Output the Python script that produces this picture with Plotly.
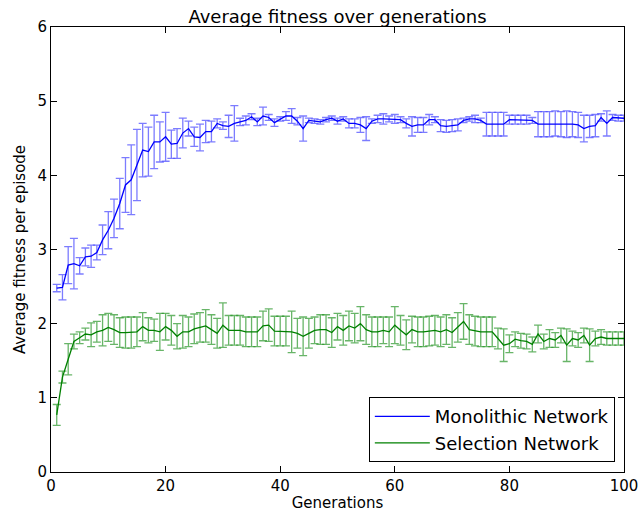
import plotly.graph_objects as go

generations = list(range(1, 101))

mono_mean = [2.48, 2.49, 2.79, 2.81, 2.78, 2.90, 2.91, 2.96, 3.13, 3.26,
             3.42, 3.62, 3.87, 3.94, 4.14, 4.34, 4.32, 4.45, 4.45, 4.52,
             4.42, 4.43, 4.57, 4.63, 4.52, 4.51, 4.59, 4.59, 4.70, 4.67,
             4.66, 4.70, 4.72, 4.74, 4.79, 4.72, 4.80, 4.78, 4.71, 4.76,
             4.80, 4.80, 4.73, 4.63, 4.74, 4.73, 4.72, 4.75, 4.77, 4.73,
             4.76, 4.70, 4.70, 4.68, 4.63, 4.73, 4.76, 4.76, 4.76, 4.76,
             4.75, 4.70, 4.66, 4.68, 4.68, 4.75, 4.75, 4.67, 4.66, 4.67,
             4.68, 4.74, 4.76, 4.76, 4.74, 4.69, 4.69, 4.69, 4.69, 4.75,
             4.75, 4.75, 4.75, 4.74, 4.69, 4.69, 4.69, 4.70, 4.69, 4.69,
             4.69, 4.68, 4.63, 4.66, 4.67, 4.78, 4.70, 4.78, 4.77, 4.77]
mono_err = [0.05, 0.17, 0.25, 0.34, 0.11, 0.12, 0.15, 0.10, 0.20, 0.25,
            0.26, 0.34, 0.37, 0.47, 0.48, 0.36, 0.33, 0.36, 0.27, 0.33,
            0.19, 0.20, 0.20, 0.10, 0.13, 0.18, 0.15, 0.14, 0.06, 0.05,
            0.15, 0.24, 0.05, 0.06, 0.04, 0.05, 0.12, 0.04, 0.05, 0.03,
            0.06, 0.10, 0.05, 0.17, 0.03, 0.03, 0.03, 0.03, 0.03, 0.04,
            0.03, 0.06, 0.06, 0.10, 0.16, 0.03, 0.05, 0.07, 0.04, 0.06,
            0.04, 0.06, 0.13, 0.10, 0.10, 0.07, 0.04, 0.08, 0.08, 0.08,
            0.08, 0.03, 0.03, 0.05, 0.03, 0.16, 0.16, 0.16, 0.16, 0.06,
            0.06, 0.06, 0.06, 0.04, 0.17, 0.17, 0.17, 0.17, 0.17, 0.18,
            0.17, 0.17, 0.18, 0.15, 0.15, 0.05, 0.17, 0.04, 0.04, 0.04]

sel_mean = [0.77, 1.28, 1.52, 1.76, 1.81, 1.86, 1.85, 1.89, 1.91, 1.95,
            1.92, 1.88, 1.88, 1.88, 1.89, 1.96, 1.91, 1.91, 1.89, 1.96,
            1.91, 1.83, 1.89, 1.89, 1.93, 1.95, 1.97, 1.92, 1.87, 1.98,
            1.91, 1.91, 1.91, 1.89, 1.89, 1.89, 1.97, 1.98, 1.90, 1.90,
            1.90, 1.89, 1.87, 1.83, 1.87, 1.91, 1.92, 1.92, 1.88, 1.96,
            1.91, 1.97, 1.94, 2.00, 1.92, 1.89, 1.89, 1.91, 1.89, 1.98,
            1.91, 1.85, 1.92, 1.89, 1.89, 1.90, 1.91, 1.89, 1.92, 1.88,
            1.95, 2.03, 1.92, 1.90, 1.89, 1.89, 1.89, 1.80, 1.71, 1.73,
            1.79, 1.77, 1.76, 1.72, 1.86, 1.76, 1.80, 1.78, 1.84, 1.71,
            1.80, 1.78, 1.84, 1.71, 1.80, 1.82, 1.80, 1.80, 1.80, 1.80]
sel_err = [0.14, 0.08, 0.21, 0.10, 0.08, 0.08, 0.16, 0.14, 0.21, 0.19,
           0.20, 0.20, 0.21, 0.21, 0.20, 0.19, 0.17, 0.15, 0.25, 0.18,
           0.20, 0.17, 0.22, 0.20, 0.20, 0.20, 0.22, 0.20, 0.20, 0.30,
           0.20, 0.20, 0.20, 0.20, 0.20, 0.20, 0.20, 0.22, 0.20, 0.20,
           0.20, 0.28, 0.20, 0.26, 0.20, 0.18, 0.20, 0.20, 0.20, 0.18,
           0.20, 0.20, 0.20, 0.23, 0.20, 0.20, 0.20, 0.18, 0.20, 0.25,
           0.20, 0.20, 0.18, 0.20, 0.20, 0.20, 0.20, 0.20, 0.20, 0.20,
           0.20, 0.24, 0.20, 0.20, 0.20, 0.20, 0.20, 0.14, 0.22, 0.12,
           0.10, 0.10, 0.10, 0.10, 0.12, 0.10, 0.12, 0.10, 0.10, 0.22,
           0.10, 0.10, 0.10, 0.22, 0.10, 0.10, 0.09, 0.09, 0.09, 0.09]

FONT = "DejaVu Sans"

fig = go.Figure()
fig.add_trace(go.Scatter(
    x=generations, y=mono_mean, mode="lines", name="Monolithic Network",
    line=dict(color="#0000ff", width=1.3),
    error_y=dict(type="data", array=mono_err, visible=True,
                 color="rgba(80,80,255,0.75)", thickness=1.3, width=4),
))
fig.add_trace(go.Scatter(
    x=generations, y=sel_mean, mode="lines", name="Selection Network",
    line=dict(color="#008000", width=1.3),
    error_y=dict(type="data", array=sel_err, visible=True,
                 color="rgba(40,150,40,0.7)", thickness=1.3, width=4),
))

axis_common = dict(
    showgrid=False, zeroline=False, showline=True, linecolor="black",
    linewidth=1, mirror="ticks", ticks="inside", ticklen=6, tickwidth=1,
    tickcolor="black", tickfont=dict(family=FONT, size=15, color="black"),
    automargin=False,
)

fig.update_layout(
    width=639, height=514,
    margin=dict(l=51, r=15, t=27, b=42),
    paper_bgcolor="white", plot_bgcolor="white",
    font=dict(family=FONT, color="black"),
    title=dict(text="Average fitness over generations", x=0.5, xref="paper",
               xanchor="center",
               y=1, yref="paper", yanchor="bottom", pad=dict(b=4),
               automargin=False,
               font=dict(family=FONT, size=18, color="black")),
    xaxis=dict(range=[0, 100], tickvals=[0, 20, 40, 60, 80, 100],
               title=dict(text="Generations", standoff=3,
                          font=dict(family=FONT, size=15)),
               **axis_common),
    yaxis=dict(range=[0, 6], tickvals=[0, 1, 2, 3, 4, 5, 6],
               title=dict(text="Average fitness per episode", standoff=8,
                          font=dict(family=FONT, size=15)),
               **axis_common),
    legend=dict(x=0.984, y=0.022, xanchor="right", yanchor="bottom",
                bordercolor="black", borderwidth=1, bgcolor="white",
                font=dict(family=FONT, size=18, color="black"),
                itemwidth=55, tracegroupgap=0),
)

# remove the page's default body margin so the figure fills the window exactly
fig.write_html("out.html",
               config={"displayModeBar": False},
               post_script="document.body.style.margin='0';")
